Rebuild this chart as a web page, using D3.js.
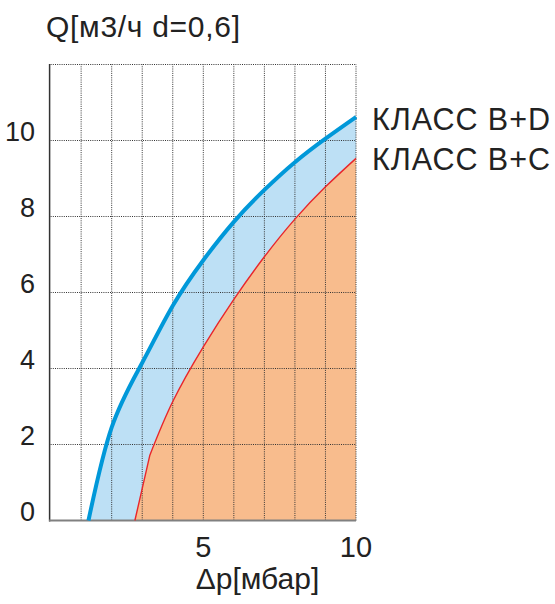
<!DOCTYPE html>
<html>
<head>
<meta charset="utf-8">
<script src="https://cdn.jsdelivr.net/npm/d3@7"></script>
<style>
  body { margin: 0; background: #fff; }
  text { font-family: "Liberation Sans", Arial, sans-serif; fill: #222; }
</style>
</head>
<body>
<div id="canvas"></div>
<script>
const width = 555;
const height = 604;

// class B+D (blue)
const dpBD = [1.24, 2, 3, 4, 5, 6, 7, 8, 9, 10];
const qBD = [0, 2.45, 4.15, 5.65, 6.85, 7.86, 8.7, 9.43, 10.05, 10.62];
// class B+C (red / orange), straight up to the kink, smooth after it
const dpBC = [2.76, 3.25, 4, 5, 6, 7, 8, 9, 10];
const qBC = [0, 1.72, 3.13, 4.57, 5.82, 6.94, 7.93, 8.78, 9.53];

const xTicks = [5, 10];
const yTicks = [0, 2, 4, 6, 8, 10];
const gridX = d3.range(1, 11);
const gridY = [2, 4, 6, 8, 10, 12];
const legendLabels = ["КЛАСС B+D", "КЛАСС B+C"];

const x = d3.scaleLinear().domain([0, 10]).range([50.6, 356]);
const y = d3.scaleLinear().domain([0, 12]).range([520.5, 64.5]);

const svg = d3.select("#canvas").append("svg")
  .attr("width", width)
  .attr("height", height);

const bd = dpBD.map((d, i) => [d, qBD[i]]);
const bc = dpBC.map((d, i) => [d, qBC[i]]);

const lineGen = (curve) => d3.line()
  .x((d) => x(d[0]))
  .y((d) => y(d[1]))
  .curve(curve);
const smooth = lineGen(d3.curveNatural);
const straight = lineGen(d3.curveLinear);

const bdPath = smooth(bd);
const bcPath = straight(bc.slice(0, 2)) + smooth(bc.slice(1)).replace(/^M/, "L");

// close a curve down to the x axis
const toArea = (p, pts) =>
  p + `L${x(pts[pts.length - 1][0])},${y(0)}L${x(pts[0][0])},${y(0)}Z`;

// fills
svg.append("path").attr("d", toArea(bdPath, bd)).attr("fill", "#bde0f5");
svg.append("path").attr("d", toArea(bcPath, bc)).attr("fill", "#f8bc8d");

// grid
const grid = svg.append("g")
  .attr("stroke", "#333")
  .attr("stroke-width", 1)
  .attr("stroke-dasharray", "1,1.2");
grid.selectAll("line.v").data(gridX).enter().append("line")
  .attr("class", "v")
  .attr("x1", (d) => x(d)).attr("x2", (d) => x(d))
  .attr("y1", y(0)).attr("y2", y(12));
grid.selectAll("line.h").data(gridY).enter().append("line")
  .attr("class", "h")
  .attr("x1", x(0)).attr("x2", x(10))
  .attr("y1", (d) => y(d)).attr("y2", (d) => y(d));

// axes lines
svg.append("line")
  .attr("x1", x(0) - 1).attr("x2", x(0) - 1)
  .attr("y1", y(12) - 0.5).attr("y2", y(0) + 1)
  .attr("stroke", "#333").attr("stroke-width", 1.5);
svg.append("line")
  .attr("x1", x(0) - 1.5).attr("x2", x(10))
  .attr("y1", y(0)).attr("y2", y(0))
  .attr("stroke", "#808080").attr("stroke-width", 2);

// curves
svg.append("path")
  .attr("d", bcPath)
  .attr("fill", "none")
  .attr("stroke", "#e8262b")
  .attr("stroke-width", 1.4);
svg.append("path")
  .attr("d", bdPath)
  .attr("fill", "none")
  .attr("stroke", "#0098d9")
  .attr("stroke-width", 4);

// tick labels
svg.selectAll("text.ytick").data(yTicks).enter().append("text")
  .attr("class", "ytick")
  .attr("x", 35)
  .attr("y", (d) => y(d))
  .attr("text-anchor", "end")
  .attr("font-size", 27)
  .text((d) => d);

svg.selectAll("text.xtick").data(xTicks).enter().append("text")
  .attr("class", "xtick")
  .attr("x", (d) => x(d))
  .attr("y", 557)
  .attr("text-anchor", "middle")
  .attr("font-size", 29)
  .text((d) => d);

// titles
svg.append("text")
  .attr("x", 46).attr("y", 37)
  .attr("font-size", 30)
  .attr("textLength", 194)
  .text("Q[м3/ч d=0,6]");
svg.append("text")
  .attr("x", 257.5).attr("y", 589)
  .attr("text-anchor", "middle")
  .attr("font-size", 30)
  .text("Δp[мбар]");

// legend
svg.selectAll("text.legend").data(legendLabels).enter().append("text")
  .attr("class", "legend")
  .attr("x", 372)
  .attr("y", (d, i) => 130 + i * 40)
  .attr("font-size", 30.5)
  .attr("textLength", 178)
  .text((d) => d);
</script>
</body>
</html>
